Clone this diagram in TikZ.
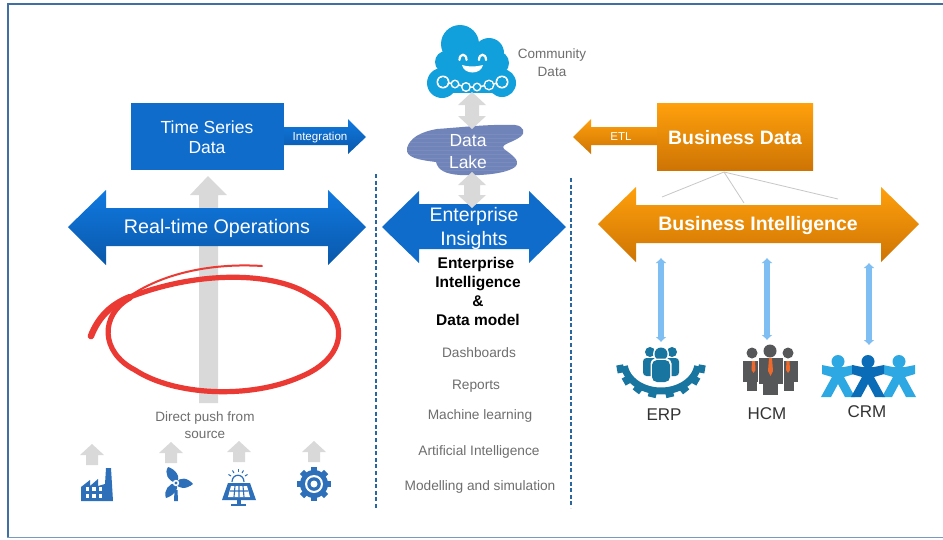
\documentclass[tikz,border=0pt]{standalone}
\usepackage{fontspec}
\setmainfont{Liberation Sans}
\usetikzlibrary{arrows.meta}
\definecolor{frameblue}{HTML}{3F6FA3}
\definecolor{bluetop}{HTML}{1079E0}
\definecolor{bluebot}{HTML}{0A58AA}
\definecolor{blueflat}{HTML}{0F6CCB}
\definecolor{orangetop}{HTML}{FFA00C}
\definecolor{orangebot}{HTML}{CE7404}
\definecolor{graya}{HTML}{D9D9D9}
\definecolor{graytext}{HTML}{6E6E6E}
\definecolor{lake}{HTML}{7084BA}
\definecolor{cloudblue}{HTML}{12A0DC}
\definecolor{iconblue}{HTML}{2D6FB9}
\definecolor{erpblue}{HTML}{17759F}
\definecolor{hcmgray}{HTML}{565759}
\definecolor{tieorange}{HTML}{EE6A2C}
\definecolor{crmlight}{HTML}{2EA8E2}
\definecolor{crmdark}{HTML}{0A6CB6}
\definecolor{lightarrow}{HTML}{7FBEF2}
\definecolor{redmark}{HTML}{EA3A33}
\definecolor{dashblue}{HTML}{2A679F}
\tikzset{
  x=1pt,y=-1pt,
  blueshade/.style={top color=bluetop,bottom color=bluebot,draw=none},
  orangeshade/.style={top color=orangetop,bottom color=orangebot,draw=none},
  whitelabel/.style={text=white,font=\fontsize{#1}{#1}\selectfont,inner sep=0pt},
  graylabel/.style={text=graytext,font=\fontsize{#1}{#1}\selectfont,inner sep=0pt},
  boldlabel/.style={text=black,font=\fontsize{15.5}{15.5}\selectfont\bfseries,inner sep=0pt},
  darklabel/.style={text=black!80,font=\fontsize{17}{17}\selectfont,inner sep=0pt},
  divider/.style={draw=dashblue,line width=1.5pt,dash pattern=on 4pt off 2.6pt},
  twoway/.style={draw=lightarrow,line width=5.5pt,{Latex[length=5pt,width=11.5pt]}-{Latex[length=5pt,width=11.5pt]}},
  thinline/.style={draw=black!22,line width=0.8pt},
}
\begin{document}
\begin{tikzpicture}
\useasboundingbox (0,0) rectangle (943,539);
\fill[white] (0,0) rectangle (943,539);
\draw[frameblue,line width=2.4pt] (7,4) -- (943,4);
\draw[frameblue,line width=2.2pt] (8,4) -- (8,537.5);
\draw[frameblue!70,line width=1.5pt] (7,537.5) -- (943,537.5);

% dividers
\coordinate (dlt) at (376,174); \coordinate (dlb) at (376,508);
\coordinate (drt) at (571,178); \coordinate (drb) at (571,508);
\draw[divider] (dlt) -- (dlb);
\draw[divider] (drt) -- (drb);

% vertical grey arrow
\fill[graya] (208,176) -- (227,195) -- (218,195) -- (218,403) -- (199,403) -- (199,195) -- (190,195) -- cycle;

% Time series box + Integration arrow
\path[blueshade] (284,127) -- (348,127) -- (348,119) -- (366,137) -- (348,154) -- (348,145) -- (284,145) -- cycle;
\node[draw=none,fill=blueflat,minimum width=153pt,minimum height=67pt,inner sep=0pt,anchor=north west] (tsbox) at (131,103) {};
\node[whitelabel=17.5] (ts1) at (207,127) {Time Series};
\node[whitelabel=17.5] (ts2) at (207,148) {Data};
\node[whitelabel=11.6] (integ) at (320,137) {Integration};

% Real-time operations
\path[blueshade] (68,227) -- (106,190) -- (106,208) -- (328,208) -- (328,190) -- (366,227) -- (328,265) -- (328,246) -- (106,246) -- (106,265) -- cycle;
\node[whitelabel=19.7] (rt) at (217,228) {Real-time Operations};

% red mark
\draw[redmark,line width=2pt,line cap=round] (262,266) .. controls (215,263) and (165,272) .. (130,296);
\draw[redmark,line width=5.2pt,line cap=round,line join=round]
  (130,298) .. controls (100,315) and (100,352) .. (135,370)
  .. controls (175,396) and (250,399) .. (300,377)
  .. controls (347,358) and (352,318) .. (310,295)
  .. controls (275,272) and (200,270) .. (130,297);
\draw[redmark,line width=6.5pt,line cap=round] (130,297) .. controls (110,305) and (98,318) .. (91,336);

% cloud
\fill[cloudblue] (460,44) circle (19);
\fill[cloudblue] (489,53) circle (15);
\fill[cloudblue] (446,62) circle (11);
\fill[cloudblue] (497,63) circle (12);
\fill[cloudblue] (446,50) rectangle (498,82);
\fill[cloudblue] (442,83) circle (15);
\fill[cloudblue] (502,83) circle (14);
\fill[cloudblue] (442,72) rectangle (502,93);
\draw[white,line width=1.5pt] (443,82) -- (455,84) -- (466,87) -- (477,87) -- (489,85) -- (502,82);
\foreach \cx/\cy/\r in {443/82/6.5,455/84/4.5,466/87/5,477/87/4.5,489/85/5.5,502/82/6.5}{
  \fill[white] (\cx,\cy) circle (\r);
  \fill[cloudblue] (\cx,\cy) circle (\r-1.6);
}
\draw[white,line width=2.2pt,line cap=round] (459.5,60) .. controls (459.5,53) and (466.5,53) .. (466.5,60);
\draw[white,line width=2.2pt,line cap=round] (479,60) .. controls (479,53) and (486,53) .. (486,60);
\fill[white] (462,65) .. controls (468,67) and (476,67) .. (483,65) .. controls (481,75) and (464,75) .. (462,65) -- cycle;
\node[graylabel=13.5] (cd1) at (552,55) {Community};
\node[graylabel=13.5] (cd2) at (552,72) {Data};

% data lake
\begin{scope}
\path[clip] (407,148) .. controls (410,138) and (420,132) .. (437,129)
  .. controls (465,127) and (490,124) .. (515,125)
  .. controls (524,126) and (526,133) .. (520,137)
  .. controls (512,143) and (500,144) .. (504,149)
  .. controls (512,155) and (520,160) .. (516,166)
  .. controls (508,174) and (480,176) .. (460,175)
  .. controls (445,174) and (438,170) .. (436,162)
  .. controls (420,160) and (405,158) .. (407,148) -- cycle;
\fill[lake] (400,120) rectangle (530,180);
\foreach \yy in {134,138,...,170}{\draw[white,opacity=.07,line width=.5pt] (400,\yy) -- (530,\yy);}
\end{scope}

% grey double arrows
\fill[graya] (472,92) -- (486,105) -- (479,105) -- (479,116) -- (486,116) -- (472,129) -- (458,116) -- (465,116) -- (465,105) -- (458,105) -- cycle;
\node[whitelabel=17.5] (dl1) at (468,141) {Data};
\node[whitelabel=17.5] (dl2) at (468,162) {Lake};

% Enterprise insights
\path[fill=blueflat] (382,227) -- (419,191) -- (419,204) -- (529,204) -- (529,191) -- (566,227) -- (529,263) -- (529,249) -- (419,249) -- (419,263) -- cycle;
\fill[graya] (472,172) -- (486,185) -- (480,185) -- (480,195) -- (486,195) -- (472,208) -- (458,195) -- (464,195) -- (464,185) -- (458,185) -- cycle;
\node[whitelabel=19.5] (ei1) at (474,216) {Enterprise};
\node[whitelabel=19.5] (ei2) at (474,240) {Insights};

\node[boldlabel] (b1) at (476,264) {Enterprise};
\node[boldlabel] (b2) at (478,284) {Intelligence};
\node[boldlabel] (b3) at (478,301) {\&};
\node[boldlabel] (b4) at (478,320) {Data model};

\node[graylabel=13.7] (l1) at (479,353) {Dashboards};
\node[graylabel=13.7] (l2) at (476,386) {Reports};
\node[graylabel=13.7] (l3) at (480,416) {Machine learning};
\node[graylabel=13.7] (l4) at (479,452) {Artificial Intelligence};
\node[graylabel=13.7] (l5) at (480,487) {Modelling and simulation};

% Business data
\path[orangeshade] (573,137) -- (591,119) -- (591,127) -- (660,127) -- (660,145) -- (591,145) -- (591,154) -- cycle;
\node[top color=orangetop,bottom color=orangebot,minimum width=156pt,minimum height=67pt,inner sep=0pt,anchor=north west] (bdbox) at (657,103) {};
\node[text=white,font=\fontsize{19.4}{19.4}\selectfont\bfseries,inner sep=0pt] (bd) at (735,138) {Business Data};
\node[whitelabel=11.5] (etl) at (621,137) {ETL};

\coordinate (g0) at (724,172);
\coordinate (g1) at (662,197);
\coordinate (g2) at (744,203);
\coordinate (g3) at (838,199);
\draw[thinline] (g0) -- (g1);
\draw[thinline] (g0) -- (g2);
\draw[thinline] (g0) -- (g3);

\path[orangeshade] (598,224) -- (636,187) -- (636,205) -- (881,205) -- (881,187) -- (919,224) -- (881,262) -- (881,243) -- (636,243) -- (636,262) -- cycle;
\node[text=white,font=\fontsize{19.5}{19.5}\selectfont\bfseries,inner sep=0pt] (bi) at (758,225) {Business Intelligence};

% light blue connectors
\coordinate (a1t) at (661,258); \coordinate (a1b) at (661,342);
\coordinate (a2t) at (767,258); \coordinate (a2b) at (767,340);
\coordinate (a3t) at (869,263); \coordinate (a3b) at (869,345);
\draw[twoway] (a1t) -- (a1b);
\draw[twoway] (a2t) -- (a2b);
\draw[twoway] (a3t) -- (a3b);

% ERP icon
\foreach \a in {12,34,56,78,102,124,146,168}{
  \draw[erpblue,line width=8pt] ({661+38*cos(\a)},{362+30*sin(\a)}) -- ({661+45*cos(\a)},{362+36*sin(\a)});
}
\draw[erpblue,line width=7pt] plot[domain=8:172,samples=40] ({661+37*cos(\x)},{362+29*sin(\x)});
\fill[erpblue] (650,352) circle (5);
\fill[erpblue] (672,352) circle (5);
\fill[erpblue,rounded corners=3.5pt] (643,358) rectangle (657,376);
\fill[erpblue,rounded corners=3.5pt] (665,358) rectangle (679,376);
\fill[white] (661,354) circle (8);
\fill[erpblue] (661,354) circle (6.5);
\fill[white,rounded corners=5pt] (650.5,358.5) rectangle (671.5,383.5);
\fill[erpblue,rounded corners=5pt] (652,360) rectangle (670,382);

% HCM icon
\fill[hcmgray] (752,353) circle (5.5);
\fill[hcmgray] (788,353) circle (5.5);
\fill[hcmgray] (743,361) rectangle (758,382);
\fill[hcmgray] (747,382) rectangle (757,391);
\fill[hcmgray] (783,361) rectangle (798,382);
\fill[hcmgray] (784,382) rectangle (794,391);
\fill[tieorange] (752,361) -- (755,361) -- (755.5,370) -- (753.5,373) -- (751.5,370) -- cycle;
\fill[tieorange] (786.5,361) -- (789.5,361) -- (790,370) -- (788,373) -- (786,370) -- cycle;
\fill[white] (758,356) rectangle (784,397);
\fill[hcmgray] (770,351) circle (6.5);
\fill[hcmgray] (759,358) rectangle (783,384);
\fill[hcmgray] (763,384) rectangle (778,395);
\fill[tieorange] (769,358) -- (772,358) -- (773,371) -- (770.5,376) -- (768,371) -- cycle;

% CRM icon
\foreach \cx/\col in {838/crmlight,899/crmlight,868/crmdark}{
  \fill[\col] (\cx,361.5) circle (6.5);
  \fill[\col] (\cx-16,365) -- (\cx-6,367) -- (\cx+6,367) -- (\cx+16,365) -- (\cx+16,374) -- (\cx+6,377) -- (\cx+17,397) -- (\cx+7,397) -- (\cx,384) -- (\cx-7,397) -- (\cx-17,397) -- (\cx-6,377) -- (\cx-16,374) -- cycle;
}

\node[darklabel] (erp) at (664,415) {ERP};
\node[darklabel] (hcm) at (767,414) {HCM};
\node[darklabel] (crm) at (867,412) {CRM};

% source arrows
\foreach \cx/\ty in {92/444,171/442,239/441,314/441}{
  \fill[graya] (\cx,\ty) -- (\cx+12,\ty+11) -- (\cx+6,\ty+11) -- (\cx+6,\ty+21) -- (\cx-6,\ty+21) -- (\cx-6,\ty+11) -- (\cx-12,\ty+11) -- cycle;
}
\node[graylabel=13.5] (dp1) at (205,418.5) {Direct push from};
\node[graylabel=13.5] (dp2) at (205,435) {source};

% factory
\fill[iconblue] (81,501) -- (81,487) -- (90,480) -- (90,486) -- (98,479) -- (98,486) -- (105,484) -- (106,468) -- (111,468) -- (113,501) -- cycle;
\foreach \wx in {85.5,92,98.5}{\foreach \wy in {487,494}{\fill[white] (\wx,\wy) rectangle (\wx+3.5,\wy+3.5);}}

% wind turbine
\fill[iconblue] (174.5,490) -- (177.5,490) -- (178,501) -- (174,501) -- cycle;
\fill[iconblue] (176,483) .. controls (168,481) and (164,473) .. (168,467) .. controls (175,469) and (182,477) .. cycle;
\fill[iconblue] (176,483) .. controls (180,476) and (188,478) .. (193,484) .. controls (187,489) and (178,490) .. cycle;
\fill[iconblue] (176,483) .. controls (180,489) and (173,496) .. (166,498) .. controls (163,491) and (169,483) .. cycle;
\fill[white] (176,483) circle (3.2);
\fill[iconblue] (176,483) circle (1.7);

% solar panel
\draw[iconblue,line width=1.2pt] (232,482) .. controls (232,473) and (244,473) .. (244,482);
\foreach \a in {-150,-120,-90,-60,-30}{\draw[iconblue,line width=1pt] ({238+8*cos(\a)},{480+8*sin(\a)}) -- ({238+11*cos(\a)},{480+11*sin(\a)});}
\fill[iconblue] (228,483) -- (250,483) -- (256,500) -- (222,500) -- cycle;
\fill[white] (231,486) -- (247,486) -- (250,497) -- (228,497) -- cycle;
\draw[iconblue,line width=1.1pt] (230,491) -- (248,491) (235,486) -- (234,497) (239,486) -- (239,497) (243,486) -- (244,497);
\fill[iconblue] (236.5,500) rectangle (240.5,504);
\fill[iconblue] (231,503.5) rectangle (246,505.5);

% gear
\foreach \a in {0,45,...,315}{
  \draw[iconblue,line width=6pt] ({314+10*cos(\a)},{484+10*sin(\a)}) -- ({314+17*cos(\a)},{484+17*sin(\a)});
}
\fill[iconblue] (314,484) circle (14);
\fill[white] (314,484) circle (9);
\fill[iconblue] (314,484) circle (6.8);
\fill[white] (314,484) circle (3.5);
\end{tikzpicture}
\end{document}
